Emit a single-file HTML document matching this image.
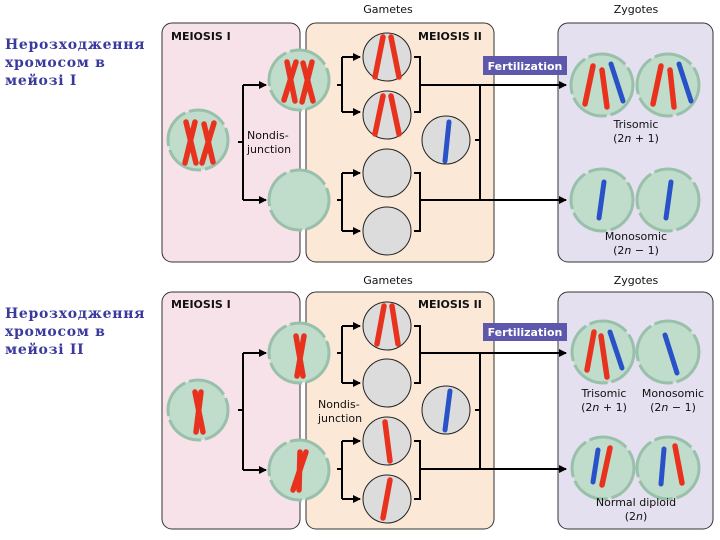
<!DOCTYPE html>
<html><head><meta charset="utf-8"><style>
body{margin:0;background:#fff;width:720px;height:540px;overflow:hidden}
svg{display:block}
.t{font-family:"DejaVu Sans","Liberation Sans",sans-serif;font-size:11px;fill:#111}
.h{font-family:"DejaVu Sans","Liberation Sans",sans-serif;font-size:11px;font-weight:bold;fill:#111}
.ua{font-family:"DejaVu Serif","Liberation Serif",serif;font-size:14px;font-weight:bold;fill:#3a3a9e;letter-spacing:0.7px}
.cell{fill:#c0dccb;stroke:#98c0aa;stroke-width:3;stroke-dasharray:40 4}
.gam{fill:#dcdcdc;stroke:#222;stroke-width:1}
.r{stroke:#e8321e;stroke-width:5.5;stroke-linecap:round}
.b{stroke:#2a52c8;stroke-width:5;stroke-linecap:round}
.ln{stroke:#000;stroke-width:2;fill:none}
.fz{fill:#5e58ad}
.ft{font-family:"DejaVu Sans","Liberation Sans",sans-serif;font-size:11px;font-weight:bold;fill:#fff}
</style></head><body>
<svg width="720" height="540" viewBox="0 0 720 540">
<defs><marker id="a" markerWidth="8" markerHeight="8" refX="7" refY="4" orient="auto" markerUnits="userSpaceOnUse"><path d="M0,0 L8,4 L0,8z" fill="#000"/></marker></defs>

<text class="ua" x="5" y="49">Нерозходження</text>
<text class="ua" x="5" y="67">хромосом в</text>
<text class="ua" x="5" y="85">мейозі I</text>
<text class="ua" x="5" y="318">Нерозходження</text>
<text class="ua" x="5" y="336">хромосом в</text>
<text class="ua" x="5" y="354">мейозі II</text>

<g>
<text class="t" x="388" y="13" text-anchor="middle">Gametes</text>
<text class="t" x="636" y="13" text-anchor="middle">Zygotes</text>
<rect x="162" y="23" width="138" height="239" rx="10" fill="#f8e2ea" stroke="#333"/>
<rect x="306" y="23" width="188" height="239" rx="10" fill="#fbe8d6" stroke="#333"/>
<rect x="558" y="23" width="155" height="239" rx="10" fill="#e4e0f0" stroke="#333"/>
<text class="h" x="171" y="40">MEIOSIS I</text>
<text class="h" x="418" y="40">MEIOSIS II</text>
<text class="t" x="247" y="139">Nondis-</text>
<text class="t" x="247" y="153">junction</text>

<path class="ln" d="M243,85 V200"/>
<path class="ln" d="M243,85 H266" marker-end="url(#a)"/><path class="ln" d="M243,200 H266" marker-end="url(#a)"/>
<path class="ln" d="M243,142 H238"/>
<path class="ln" d="M342,57 V112 M342,85 H337"/><path class="ln" d="M342,57 H360" marker-end="url(#a)"/><path class="ln" d="M342,112 H360" marker-end="url(#a)"/>
<path class="ln" d="M342,173 V231 M342,200 H337"/><path class="ln" d="M342,173 H360" marker-end="url(#a)"/><path class="ln" d="M342,231 H360" marker-end="url(#a)"/>
<path class="ln" d="M414,57 H420 V112 H414"/><path class="ln" d="M420,85 H566" marker-end="url(#a)"/>
<path class="ln" d="M414,173 H420 V231 H414"/><path class="ln" d="M420,200 H566" marker-end="url(#a)"/>
<path class="ln" d="M480,85 V200 M480,140 H475"/>

<circle class="cell" cx="198" cy="140" r="30"/>
<line class="r" x1="186" y1="122" x2="196" y2="163"/><line class="r" x1="195" y1="122" x2="185" y2="163"/>
<line class="r" x1="214" y1="123" x2="202" y2="163"/><line class="r" x1="204" y1="124" x2="213" y2="162"/>
<circle class="cell" cx="299" cy="80" r="30"/>
<line class="r" x1="287" y1="62" x2="295" y2="101"/><line class="r" x1="296" y1="62" x2="284" y2="100"/>
<line class="r" x1="312" y1="62" x2="302" y2="102"/><line class="r" x1="303" y1="63" x2="313" y2="101"/>
<circle class="cell" cx="299" cy="200" r="30"/>

<circle class="gam" cx="387" cy="57" r="24"/>
<line class="r" x1="383" y1="37" x2="375" y2="77"/><line class="r" x1="391" y1="37" x2="399" y2="77"/>
<circle class="gam" cx="387" cy="115" r="24"/>
<line class="r" x1="383" y1="96" x2="375" y2="134"/><line class="r" x1="391" y1="96" x2="399" y2="134"/>
<circle class="gam" cx="387" cy="173" r="24"/>
<circle class="gam" cx="387" cy="231" r="24"/>
<circle class="gam" cx="446" cy="140" r="24"/>
<line class="b" x1="449" y1="122" x2="445" y2="161"/>

<rect class="fz" x="483" y="56" width="84" height="19"/>
<text class="ft" x="525" y="70" text-anchor="middle">Fertilization</text>

<circle class="cell" cx="602" cy="85" r="31"/>
<line class="r" x1="593" y1="66" x2="585" y2="104"/><line class="r" x1="602" y1="70" x2="607" y2="107"/><line class="b" x1="611" y1="64" x2="623" y2="101"/>
<circle class="cell" cx="668" cy="85" r="31"/>
<line class="r" x1="661" y1="66" x2="653" y2="104"/><line class="r" x1="670" y1="70" x2="674" y2="107"/><line class="b" x1="679" y1="64" x2="691" y2="101"/>
<text class="t" x="636" y="128" text-anchor="middle">Trisomic</text>
<text class="t" x="636" y="142" text-anchor="middle">(2<tspan font-style="italic">n</tspan> + 1)</text>
<circle class="cell" cx="602" cy="200" r="31"/>
<line class="b" x1="604" y1="182" x2="599" y2="218"/>
<circle class="cell" cx="668" cy="200" r="31"/>
<line class="b" x1="671" y1="182" x2="666" y2="218"/>
<text class="t" x="636" y="240" text-anchor="middle">Monosomic</text>
<text class="t" x="636" y="254" text-anchor="middle">(2<tspan font-style="italic">n</tspan> − 1)</text>
</g>

<g>
<text class="t" x="388" y="284" text-anchor="middle">Gametes</text>
<text class="t" x="636" y="284" text-anchor="middle">Zygotes</text>
<rect x="162" y="292" width="138" height="237" rx="10" fill="#f8e2ea" stroke="#333"/>
<rect x="306" y="292" width="188" height="237" rx="10" fill="#fbe8d6" stroke="#333"/>
<rect x="558" y="292" width="155" height="237" rx="10" fill="#e4e0f0" stroke="#333"/>
<text class="h" x="171" y="308">MEIOSIS I</text>
<text class="h" x="418" y="308">MEIOSIS II</text>
<text class="t" x="318" y="408">Nondis-</text>
<text class="t" x="318" y="422">junction</text>

<path class="ln" d="M243,353 V470 M243,410 H238"/>
<path class="ln" d="M243,353 H266" marker-end="url(#a)"/><path class="ln" d="M243,470 H266" marker-end="url(#a)"/>
<path class="ln" d="M342,326 V383 M342,353 H337"/><path class="ln" d="M342,326 H360" marker-end="url(#a)"/><path class="ln" d="M342,383 H360" marker-end="url(#a)"/>
<path class="ln" d="M342,441 V499 M342,469 H337"/><path class="ln" d="M342,441 H360" marker-end="url(#a)"/><path class="ln" d="M342,499 H360" marker-end="url(#a)"/>
<path class="ln" d="M414,326 H420 V383 H414"/><path class="ln" d="M420,353 H566" marker-end="url(#a)"/>
<path class="ln" d="M414,441 H420 V499 H414"/><path class="ln" d="M420,469 H566" marker-end="url(#a)"/>
<path class="ln" d="M480,353 V469 M480,410 H475"/>

<circle class="cell" cx="198" cy="410" r="30"/>
<line class="r" x1="195" y1="392" x2="203" y2="432"/><line class="r" x1="201" y1="392" x2="196" y2="432"/>
<circle class="cell" cx="299" cy="353" r="30"/>
<line class="r" x1="296" y1="336" x2="303" y2="376"/><line class="r" x1="304" y1="336" x2="297" y2="376"/>
<circle class="cell" cx="299" cy="470" r="30"/>
<line class="r" x1="306" y1="452" x2="293" y2="490"/><line class="r" x1="300" y1="452" x2="299" y2="490" stroke-width="4"/>

<circle class="gam" cx="387" cy="326" r="24"/>
<line class="r" x1="384" y1="306" x2="377" y2="344"/><line class="r" x1="392" y1="306" x2="398" y2="344"/>
<circle class="gam" cx="387" cy="383" r="24"/>
<circle class="gam" cx="387" cy="441" r="24"/>
<line class="r" x1="385" y1="422" x2="390" y2="461"/>
<circle class="gam" cx="387" cy="499" r="24"/>
<line class="r" x1="390" y1="480" x2="383" y2="518"/>
<circle class="gam" cx="446" cy="410" r="24"/>
<line class="b" x1="450" y1="391" x2="445" y2="430"/>

<rect class="fz" x="483" y="323" width="84" height="18"/>
<text class="ft" x="525" y="336" text-anchor="middle">Fertilization</text>

<circle class="cell" cx="603" cy="352" r="31"/>
<line class="r" x1="594" y1="332" x2="587" y2="370"/><line class="r" x1="601" y1="336" x2="607" y2="377"/><line class="b" x1="610" y1="332" x2="622" y2="368"/>
<circle class="cell" cx="668" cy="352" r="31"/>
<line class="b" x1="665" y1="335" x2="677" y2="373"/>
<text class="t" x="604" y="397" text-anchor="middle">Trisomic</text>
<text class="t" x="604" y="411" text-anchor="middle">(2<tspan font-style="italic">n</tspan> + 1)</text>
<text class="t" x="673" y="397" text-anchor="middle">Monosomic</text>
<text class="t" x="673" y="411" text-anchor="middle">(2<tspan font-style="italic">n</tspan> − 1)</text>
<circle class="cell" cx="603" cy="468" r="31"/>
<line class="b" x1="598" y1="450" x2="593" y2="482"/><line class="r" x1="610" y1="448" x2="602" y2="485"/>
<circle class="cell" cx="668" cy="468" r="31"/>
<line class="b" x1="664" y1="449" x2="661" y2="484"/><line class="r" x1="675" y1="446" x2="682" y2="483"/>
<text class="t" x="636" y="506" text-anchor="middle">Normal diploid</text>
<text class="t" x="636" y="520" text-anchor="middle">(2<tspan font-style="italic">n</tspan>)</text>
</g>
</svg>
</body></html>
